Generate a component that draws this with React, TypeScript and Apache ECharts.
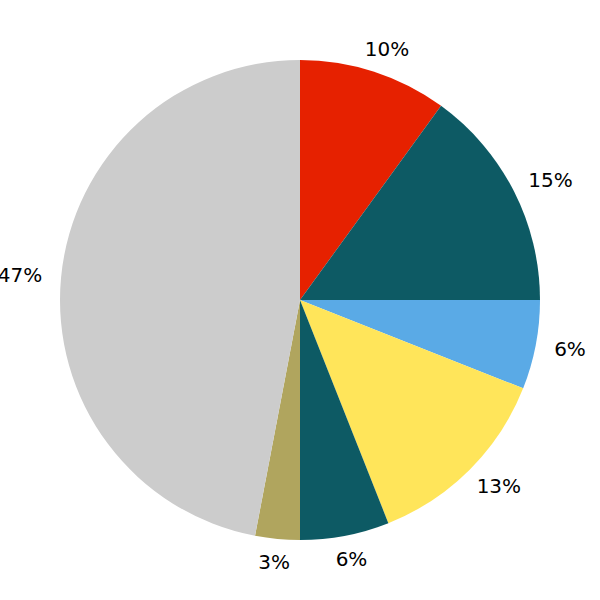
import React, { useEffect, useRef } from 'react';
import * as echarts from 'echarts';

const categories = ['A', 'B', 'C', 'D', 'E', 'F', 'G'];
const values = [10, 15, 6, 13, 6, 3, 47];
const colors = ['#e62100', '#0d5a64', '#5aaae6', '#ffe55a', '#0d5a64', '#b0a55e', '#cccccc'];

const FONT_SIZE = 20;
const FONT_FAMILY = 'DejaVu Sans';
const PIE_RADIUS = 240;
const LABEL_RADIUS = 256;

function measure(text: string): number {
  const c = document.createElement('canvas');
  const ctx = c.getContext('2d');
  if (!ctx) return text.length * FONT_SIZE * 0.7;
  ctx.font = `${FONT_SIZE}px "${FONT_FAMILY}"`;
  return ctx.measureText(text).width;
}

export default function App() {
  const ref = useRef<HTMLDivElement>(null);
  useEffect(() => {
    document.body.style.margin = '0';
    if (!ref.current) return;
    const chart = echarts.init(ref.current, undefined, { renderer: 'svg' });
    const total = values.reduce((a, b) => a + b, 0);
    let cum = 0;
    const labelData = values.map((v, i) => {
      const mid = ((cum + v / 2) / total) * Math.PI * 2;
      cum += v;
      const text = `${Math.round((v / total) * 100)}%`;
      const w = measure(text);
      const dx = Math.sin(mid);
      const dy = -Math.cos(mid);
      return {
        name: categories[i],
        value: v,
        label: { offset: [dx * w / 2, dy * 4.5] },
      };
    });
    chart.setOption({
      animation: false,
      series: [
        {
          type: 'pie',
          center: ['50%', '50%'],
          radius: [0, PIE_RADIUS],
          startAngle: 90,
          clockwise: true,
          silent: true,
          label: { show: false },
          labelLine: { show: false },
          emphasis: { disabled: true },
          data: values.map((v, i) => ({
            name: categories[i],
            value: v,
            itemStyle: { color: colors[i], borderWidth: 0 },
          })),
        },
        {
          type: 'pie',
          center: ['50%', '50%'],
          radius: [LABEL_RADIUS - 8, LABEL_RADIUS + 8],
          startAngle: 90,
          clockwise: true,
          silent: true,
          itemStyle: { color: 'transparent', borderWidth: 0 },
          emphasis: { disabled: true },
          labelLine: { show: false },
          label: {
            show: true,
            position: 'inside',
            color: '#000',
            fontSize: FONT_SIZE,
            fontFamily: FONT_FAMILY,
            formatter: (p: any) => `${Math.round(p.percent)}%`,
          },
          data: labelData,
        },
      ],
    });
    return () => chart.dispose();
  }, []);
  return <div ref={ref} style={{ width: 600, height: 600 }} />;
}
